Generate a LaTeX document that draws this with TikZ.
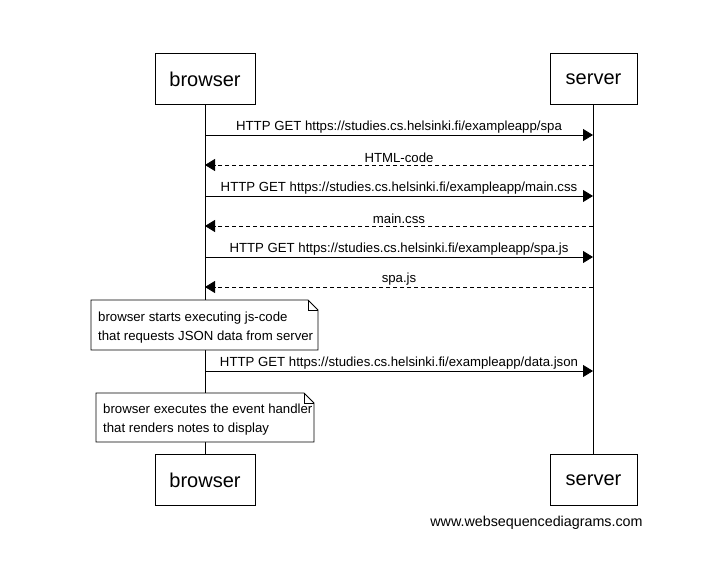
\documentclass[tikz,border=0pt]{standalone}
\usepackage{fontspec}
\setmainfont{Liberation Sans}
\usetikzlibrary{arrows.meta}
\begin{document}
\begin{tikzpicture}[x=1pt,y=-1pt,
  actor/.style={draw,line width=0.8pt,minimum width=100pt,minimum height=51pt,inner sep=0pt,font=\fontsize{20}{24}\selectfont},
  actorS/.style={actor,minimum width=87pt},
  life/.style={line width=0.8pt},
  msg/.style={line width=0.8pt,-{Triangle[length=10pt,width=12pt]}},
  reply/.style={msg,dash pattern=on 4pt off 3pt},
  lbl/.style={font=\fontsize{13.2}{15}\selectfont,inner sep=0pt,anchor=base},
  notetext/.style={font=\fontsize{13.2}{18.5}\selectfont,align=left,inner sep=0pt,anchor=north west},
  notebox/.style={line width=0.8pt,fill=white}
]
\useasboundingbox (0,0) rectangle (724,570);
\fill[white] (0,0) rectangle (724,570);

% participants
\node[actor]  (bt) at (205,79)  {browser};
\node[actorS] (st) at (593.5,79) {\raisebox{-2pt}{server}};
\node[actor]  (bb) at (205,480) {browser};
\node[actorS] (sb) at (593.5,480) {\raisebox{-2pt}{server}};

% lifelines
\draw[life] (bt.south) -- (bb.north);
\draw[life] (st.south) -- (sb.north);

% message anchors
\foreach \n/\y in {1/135,2/165,3/196,4/226,5/257,6/287,7/371}{
  \coordinate (b\n) at (205,\y);
  \coordinate (s\n) at (593,\y);
}

\draw[msg]   (b1) -- (s1) node[lbl,midway,above=1.5pt] (m1) {HTTP GET https://studies.cs.helsinki.fi/exampleapp/spa};
\draw[reply] (s2) -- (b2) node[lbl,midway,above=1.5pt] (m2) {HTML-code};
\draw[msg]   (b3) -- (s3) node[lbl,midway,above=1.5pt] (m3) {HTTP GET https://studies.cs.helsinki.fi/exampleapp/main.css};
\draw[reply] (s4) -- (b4) node[lbl,midway,above=1.5pt] (m4) {main.css};
\draw[msg]   (b5) -- (s5) node[lbl,midway,above=1.5pt] (m5) {HTTP GET https://studies.cs.helsinki.fi/exampleapp/spa.js};
\draw[reply] (s6) -- (b6) node[lbl,midway,above=1.5pt] (m6) {spa.js};
\draw[msg]   (b7) -- (s7) node[lbl,midway,above=1.5pt] (m7) {HTTP GET https://studies.cs.helsinki.fi/exampleapp/data.json};

% notes with folded corner
\draw[notebox] (91,300) -- (308,300) -- (318,310) -- (318,350) -- (91,350) -- cycle;
\draw[line width=0.8pt] (308,300) -- (308,310) -- (318,310);
\node[notetext] (n1) at (98,312) {browser starts executing js-code\\that requests JSON data from server};

\draw[notebox] (96,393) -- (304,393) -- (314,403) -- (314,442) -- (96,442) -- cycle;
\draw[line width=0.8pt] (304,393) -- (304,403) -- (314,403);
\node[notetext] (n2) at (103,404) {browser executes the event handler\\that renders notes to display};

% footer
\node[font=\fontsize{14.3}{16}\selectfont,inner sep=0pt] (ft) at (536.5,523) {www.websequencediagrams.com};
\end{tikzpicture}
\end{document}
